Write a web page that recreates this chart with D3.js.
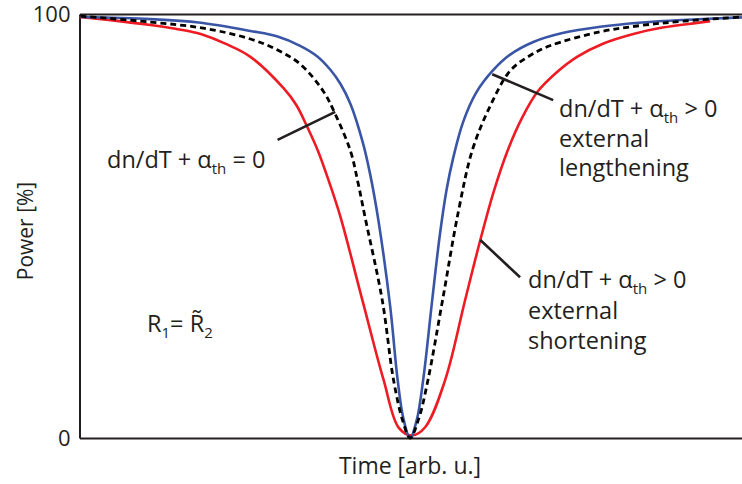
<!DOCTYPE html>
<html>
<head>
<meta charset="utf-8">
<script src="https://cdn.jsdelivr.net/npm/d3@7/dist/d3.min.js"></script>
<style>
  html, body { margin: 0; padding: 0; background: #fff; }
  svg { display: block; }
  text { font-family: "Open Sans", "Noto Sans", sans-serif; fill: #231f20; }
</style>
</head>
<body>
<svg id="chart" width="742" height="484"></svg>
<script>
// Resonance dip: transmitted power versus time for three thermal regimes
const yTicks = [0, 100];

// Blue: external lengthening
const blueTime  = [0.15, 10.7, 18.0, 25.8, 29.9, 33.3, 35.9, 37.9, 39.4, 40.9, 42.8, 43.9, 45.1, 46.9, 48.0, 48.9, 49.9,
                   50.9, 51.9, 53.2, 54.4, 55.4, 56.4, 57.9, 59.9, 62.3, 64.9, 68.5, 72.9, 78.6, 84.9, 91.1, 100];
const bluePower = [99.3, 98.8, 98.0, 96.0, 94.7, 92.5, 90.0, 86.8, 83.5, 78.8, 69.5, 62.0, 51.5, 31.0, 14.0, 4.5, 0.0,
                   4.2, 14.0, 32.0, 48.0, 58.5, 66.0, 74.5, 81.5, 86.5, 90.3, 93.4, 95.5, 97.0, 98.0, 98.6, 99.2];

// Dashed: dn/dT + alpha_th = 0
const dashTime  = [0.15, 10.7, 18.9, 25.8, 29.9, 33.3, 36.8, 38.6, 40.9, 42.0, 43.1, 45.7, 47.4, 48.8, 49.9,
                   51.2, 52.6, 54.8, 57.2, 59.3, 61.9, 65.0, 68.0, 71.0, 78.6, 84.8, 91.1, 100];
const dashPower = [99.5, 98.1, 96.6, 94.1, 91.5, 88.2, 81.8, 76.4, 67.7, 60.5, 52.1, 32.5, 13.7, 4.0, 0.0,
                   4.5, 13.7, 32.5, 53.5, 67.9, 78.0, 86.6, 90.2, 92.5, 95.8, 97.3, 98.3, 99.3];

// Red: external shortening
const redTime  = [0.0, 5.0, 10.7, 14.5, 18.3, 22.0, 25.8, 30.8, 32.7, 34.4, 36.0, 37.7, 39.4, 42.7, 45.9, 48.2, 50.2, 52.2,
                  55.2, 58.2, 60.5, 62.5, 64.6, 66.8, 69.1, 72.0, 75.1, 79.0, 83.6, 88.0, 93.2, 95.2];
const redPower = [99.3, 98.5, 97.4, 96.5, 95.3, 93.0, 89.9, 82.5, 78.6, 73.3, 67.7, 60.3, 52.1, 32.5, 13.7, 2.4, 0.6, 2.6,
                  13.7, 32.5, 46.7, 58.0, 67.7, 75.5, 81.6, 86.2, 89.9, 93.0, 95.3, 96.8, 97.9, 98.3];

const svg = d3.select("#chart");
const margin = { left: 79.5, right: 0, top: 14, bottom: 46 };
const W = 742, H = 484;

const x = d3.scaleLinear().domain([0, 100]).range([margin.left, W]);
const y = d3.scaleLinear().domain([0, 100]).range([H - margin.bottom, margin.top]);

const axisColor = "#231f20";
const fs = 23.5;

// Frame: left axis with its two ticks, bottom and top rules
const gy = svg.append("g").attr("transform", `translate(${margin.left},0)`)
  .call(d3.axisLeft(y).tickValues(yTicks).tickSize(0).tickPadding(9).tickFormat(d3.format("d")));
gy.select(".domain").attr("stroke", axisColor).attr("stroke-width", 2);
gy.selectAll("text").attr("font-size", 22).attr("font-family", "Open Sans").attr("fill", axisColor);

const gx = svg.append("g").attr("transform", `translate(0,${y(0)})`)
  .call(d3.axisBottom(x).tickValues([]).tickSize(0));
gx.select(".domain").attr("stroke", axisColor).attr("stroke-width", 2);

const gt = svg.append("g").attr("transform", `translate(0,${y(100)})`)
  .call(d3.axisTop(x).tickValues([]).tickSize(0));
gt.select(".domain").attr("stroke", axisColor).attr("stroke-width", 2);

// Curves
const line = d3.line().x(d => x(d[0])).y(d => y(d[1])).curve(d3.curveCatmullRom.alpha(0.5));
const zip = (a, b) => a.map((t, i) => [t, b[i]]);

svg.append("path").datum(zip(redTime, redPower))
  .attr("d", line).attr("fill", "none").attr("stroke", "#ed1c24").attr("stroke-width", 2.6);
svg.append("path").datum(zip(blueTime, bluePower))
  .attr("d", line).attr("fill", "none").attr("stroke", "#3a55a5").attr("stroke-width", 2.6);
svg.append("path").datum(zip(dashTime, dashPower))
  .attr("d", line).attr("fill", "none").attr("stroke", "#000").attr("stroke-width", 2.8)
  .attr("stroke-dasharray", "6,4");

// Leader lines (in data units)
const leaders = [
  [[29.9, 70.3], [38.6, 76.9]],
  [[62.3, 85.8], [71.5, 79.7]],
  [[60.5, 46.7], [66.5, 37.9]]
];
leaders.forEach(l => {
  svg.append("line")
    .attr("x1", x(l[0][0])).attr("y1", y(l[0][1]))
    .attr("x2", x(l[1][0])).attr("y2", y(l[1][1]))
    .attr("stroke", axisColor).attr("stroke-width", 2.6);
});

// Annotation text helper: formula with "th" subscript
function formula(g, xPos, yPos, tail) {
  const t = g.append("text").attr("x", xPos).attr("y", yPos).attr("font-size", fs);
  t.append("tspan").text("dn/dT + α");
  t.append("tspan").attr("font-size", 15).attr("dy", 6).text("th");
  t.append("tspan").attr("dy", -6).text(tail);
  return t;
}

const ann = svg.append("g");
formula(ann, 107, 168, " = 0");

formula(ann, 559, 116.5, " > 0");
ann.append("text").attr("x", 559).attr("y", 147).attr("font-size", fs).text("external");
ann.append("text").attr("x", 559).attr("y", 176).attr("font-size", fs).text("lengthening");

formula(ann, 528, 288, " > 0");
ann.append("text").attr("x", 528).attr("y", 319).attr("font-size", fs).text("external");
ann.append("text").attr("x", 528).attr("y", 349).attr("font-size", fs).text("shortening");

// R1 = R~2
const r = ann.append("text").attr("x", 147).attr("y", 332).attr("font-size", fs);
r.append("tspan").text("R");
r.append("tspan").attr("font-size", 15).attr("dy", 6).text("1");
r.append("tspan").attr("dy", -6).text("= R\u0303");
r.append("tspan").attr("font-size", 15).attr("dy", 6).text("2");

// Axis titles
svg.append("text").attr("x", 410).attr("y", 474).attr("text-anchor", "middle")
  .attr("font-size", 23).text("Time [arb. u.]");
svg.append("text").attr("transform", "translate(33,231) rotate(-90)")
  .attr("text-anchor", "middle").attr("font-size", 21).text("Power [%]");
</script>
</body>
</html>
